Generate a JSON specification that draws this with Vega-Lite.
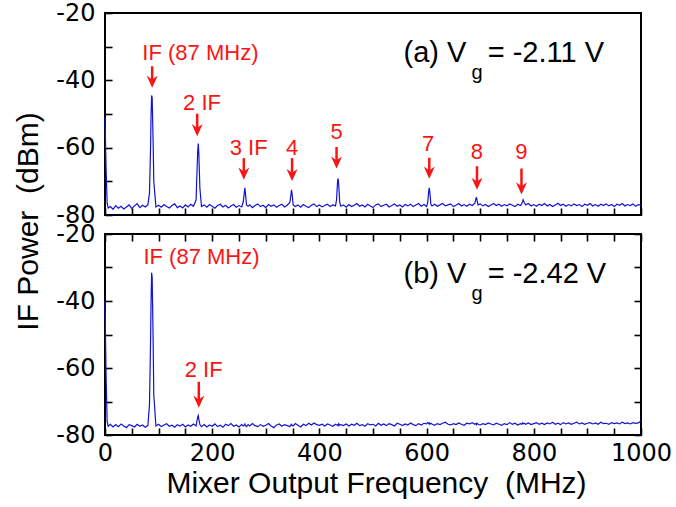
{
  "$schema": "https://vega.github.io/schema/vega-lite/v6.json",
  "padding": {"left": 12, "top": 0, "right": 5, "bottom": 5},
  "bounds": "flush",
  "spacing": 19,
  "config": {
    "view": {"stroke": "black", "strokeWidth": 2},
    "axis": {"domain": false, "grid": false, "tickSize": 7, "tickWidth": 1.6, "tickColor": "black", "offset": -7,
      "labelFont": "DejaVu Sans", "labelFontSize": 24, "labelColor": "black", "labelOverlap": false, "labelFlush": false,
      "titleFont": "Liberation Sans", "titleFontSize": 30, "titleFontWeight": "normal", "titleColor": "black"},
    "axisX": {"labelPadding": 6},
    "axisY": {"labelPadding": 10}
  },
  "datasets": {
    "spec": [
      {"f":0,"a":-51,"b":-40},{"f":2,"a":-66,"b":-62},{"f":4,"a":-76.5,"b":-76.0},{"f":6,"a":-77.9,"b":-77.4},
      {"f":10,"a":-77.5,"b":-76.8},{"f":15,"a":-78.3,"b":-77.6},{"f":20,"a":-77.2,"b":-76.9},{"f":25,"a":-78.0,"b":-77.5},
      {"f":30,"a":-77.4,"b":-76.7},{"f":35,"a":-78.2,"b":-77.3},{"f":40,"a":-77.6,"b":-77.8},{"f":45,"a":-77.0,"b":-76.9},
      {"f":50,"a":-78.1,"b":-77.2},{"f":55,"a":-77.3,"b":-77.6},{"f":60,"a":-76.6,"b":-76.8},{"f":65,"a":-77.8,"b":-77.4},
      {"f":70,"a":-77.1,"b":-77.0},{"f":75,"a":-77.6,"b":-77.7},{"f":80,"a":-77.0,"b":-77.2},{"f":83,"a":-73.5,"b":-71},
      {"f":85,"a":-60,"b":-52},{"f":86,"a":-50,"b":-40},{"f":87,"a":-44.5,"b":-31.6},{"f":88,"a":-45.2,"b":-33},
      {"f":90,"a":-60,"b":-54},{"f":91,"a":-70,"b":-68},{"f":95,"a":-77.6,"b":-77.3},{"f":100,"a":-77.1,"b":-76.8},
      {"f":105,"a":-77.7,"b":-77.5},{"f":110,"a":-76.9,"b":-77.0},{"f":115,"a":-77.5,"b":-76.6},{"f":120,"a":-77.9,"b":-77.4},
      {"f":125,"a":-77.2,"b":-77.1},{"f":130,"a":-76.7,"b":-77.7},{"f":135,"a":-77.8,"b":-76.9},{"f":140,"a":-77.3,"b":-77.3},
      {"f":145,"a":-77.9,"b":-76.8},{"f":150,"a":-77.0,"b":-77.6},{"f":155,"a":-77.6,"b":-77.0},{"f":160,"a":-76.8,"b":-77.4},
      {"f":165,"a":-77.4,"b":-76.7},{"f":170,"a":-75.5,"b":-77.3},{"f":171,"a":-70,"b":-76.3},{"f":173,"a":-61,"b":-74.6},
      {"f":174,"a":-58.8,"b":-74.2},{"f":175,"a":-61.5,"b":-75.2},{"f":177,"a":-72,"b":-76.9},{"f":180,"a":-77.5,"b":-77.5},
      {"f":185,"a":-77.0,"b":-76.9},{"f":190,"a":-77.7,"b":-77.6},{"f":195,"a":-76.9,"b":-77.0},{"f":200,"a":-77.4,"b":-77.4},
      {"f":205,"a":-78.0,"b":-76.7},{"f":210,"a":-77.2,"b":-77.5},{"f":215,"a":-76.8,"b":-77.1},{"f":220,"a":-77.6,"b":-77.7},
      {"f":225,"a":-77.1,"b":-76.8},{"f":230,"a":-77.9,"b":-77.2},{"f":235,"a":-77.3,"b":-76.6},{"f":240,"a":-76.9,"b":-77.4},
      {"f":245,"a":-77.7,"b":-77.0},{"f":250,"a":-77.2,"b":-77.6},{"f":255,"a":-77.6,"b":-76.9},{"f":258,"a":-76.0,"b":-77.3},
      {"f":260,"a":-73.2,"b":-77.0},{"f":261,"a":-71.9,"b":-76.7},{"f":262,"a":-73.5,"b":-77.2},{"f":264,"a":-77.0,"b":-77.5},
      {"f":267,"a":-77.4,"b":-76.9},{"f":270,"a":-77.0,"b":-77.3},{"f":275,"a":-77.8,"b":-76.6},{"f":280,"a":-77.2,"b":-77.2},
      {"f":285,"a":-76.7,"b":-77.5},{"f":290,"a":-77.5,"b":-76.9},{"f":295,"a":-77.1,"b":-77.4},{"f":300,"a":-77.8,"b":-77.1},
      {"f":305,"a":-76.9,"b":-76.6},{"f":310,"a":-77.4,"b":-77.3},{"f":315,"a":-77.0,"b":-77.8},{"f":320,"a":-77.7,"b":-77.0},
      {"f":325,"a":-77.2,"b":-76.7},{"f":330,"a":-76.8,"b":-77.4},{"f":335,"a":-77.6,"b":-76.9},{"f":340,"a":-77.1,"b":-77.2},
      {"f":345,"a":-76.2,"b":-77.5},{"f":347,"a":-73.8,"b":-77.0},{"f":348,"a":-72.5,"b":-76.8},{"f":349,"a":-73.6,"b":-77.1},
      {"f":351,"a":-77.0,"b":-77.3},{"f":355,"a":-77.5,"b":-76.6},{"f":360,"a":-77.0,"b":-77.1},{"f":365,"a":-77.7,"b":-77.6},
      {"f":370,"a":-76.9,"b":-76.8},{"f":375,"a":-77.4,"b":-77.2},{"f":380,"a":-77.8,"b":-76.5},{"f":385,"a":-77.1,"b":-77.0},
      {"f":390,"a":-76.7,"b":-76.4},{"f":395,"a":-77.5,"b":-76.9},{"f":400,"a":-77.0,"b":-77.1},{"f":405,"a":-77.6,"b":-76.8},
      {"f":410,"a":-77.2,"b":-77.3},{"f":415,"a":-76.8,"b":-76.7},{"f":420,"a":-77.5,"b":-77.0},{"f":425,"a":-77.0,"b":-77.4},
      {"f":430,"a":-77.3,"b":-76.8},{"f":432,"a":-75.5,"b":-77.0},{"f":434,"a":-69.8,"b":-76.9},{"f":435,"a":-69.2,"b":-77.2},
      {"f":436,"a":-71.0,"b":-76.6},{"f":438,"a":-76.3,"b":-77.1},{"f":440,"a":-77.4,"b":-76.9},{"f":445,"a":-77.0,"b":-77.2},
      {"f":450,"a":-77.7,"b":-76.7},{"f":455,"a":-76.9,"b":-77.3},{"f":460,"a":-77.5,"b":-76.8},{"f":465,"a":-77.1,"b":-77.1},
      {"f":470,"a":-76.6,"b":-76.5},{"f":475,"a":-77.4,"b":-77.2},{"f":480,"a":-77.0,"b":-76.9},{"f":485,"a":-77.6,"b":-77.4},
      {"f":490,"a":-76.8,"b":-76.6},{"f":495,"a":-77.3,"b":-77.0},{"f":500,"a":-77.8,"b":-76.8},{"f":505,"a":-77.0,"b":-77.3},
      {"f":510,"a":-76.7,"b":-76.5},{"f":515,"a":-77.5,"b":-77.1},{"f":520,"a":-77.1,"b":-76.7},{"f":525,"a":-76.8,"b":-77.2},
      {"f":530,"a":-77.6,"b":-76.6},{"f":535,"a":-77.2,"b":-76.9},{"f":540,"a":-76.7,"b":-77.3},{"f":545,"a":-77.4,"b":-76.5},
      {"f":550,"a":-77.0,"b":-76.8},{"f":555,"a":-77.6,"b":-77.2},{"f":560,"a":-76.9,"b":-76.7},{"f":565,"a":-77.3,"b":-77.0},
      {"f":570,"a":-76.8,"b":-76.4},{"f":575,"a":-77.5,"b":-76.9},{"f":580,"a":-77.0,"b":-77.2},{"f":585,"a":-76.6,"b":-76.6},
      {"f":590,"a":-77.4,"b":-77.0},{"f":595,"a":-76.9,"b":-76.5},{"f":600,"a":-77.5,"b":-76.7},{"f":602,"a":-76.3,"b":-76.3},
      {"f":604,"a":-72.8,"b":-76.6},{"f":605,"a":-71.9,"b":-76.4},{"f":606,"a":-73.2,"b":-76.8},{"f":608,"a":-76.8,"b":-76.5},
      {"f":610,"a":-77.3,"b":-76.7},{"f":615,"a":-76.8,"b":-77.1},{"f":620,"a":-77.4,"b":-76.6},{"f":625,"a":-77.0,"b":-76.9},
      {"f":630,"a":-76.6,"b":-76.5},{"f":635,"a":-77.3,"b":-76.2},{"f":640,"a":-77.0,"b":-76.8},{"f":645,"a":-76.7,"b":-77.0},
      {"f":650,"a":-77.5,"b":-76.6},{"f":655,"a":-77.1,"b":-76.9},{"f":660,"a":-76.6,"b":-76.4},{"f":665,"a":-77.3,"b":-76.8},
      {"f":670,"a":-76.9,"b":-77.1},{"f":675,"a":-77.4,"b":-76.5},{"f":680,"a":-76.8,"b":-76.7},{"f":685,"a":-77.2,"b":-76.3},
      {"f":690,"a":-76.5,"b":-76.8},{"f":692,"a":-75.2,"b":-76.6},{"f":693,"a":-74.7,"b":-76.9},{"f":694,"a":-75.6,"b":-76.5},
      {"f":696,"a":-77.0,"b":-76.8},{"f":700,"a":-76.7,"b":-77.0},{"f":705,"a":-77.3,"b":-76.6},{"f":710,"a":-76.9,"b":-76.9},
      {"f":715,"a":-77.5,"b":-76.4},{"f":720,"a":-77.0,"b":-76.7},{"f":725,"a":-76.6,"b":-77.0},{"f":730,"a":-77.2,"b":-76.5},
      {"f":735,"a":-76.8,"b":-76.8},{"f":740,"a":-77.4,"b":-77.1},{"f":745,"a":-76.9,"b":-76.6},{"f":750,"a":-77.3,"b":-76.9},
      {"f":755,"a":-76.7,"b":-76.3},{"f":760,"a":-77.1,"b":-76.8},{"f":765,"a":-77.5,"b":-76.5},{"f":770,"a":-76.8,"b":-77.0},
      {"f":775,"a":-77.2,"b":-76.6},{"f":777,"a":-76.8,"b":-76.8},{"f":779,"a":-76.0,"b":-76.4},{"f":780,"a":-75.5,"b":-76.7},
      {"f":782,"a":-76.3,"b":-76.5},{"f":785,"a":-77.0,"b":-76.8},{"f":790,"a":-76.6,"b":-76.4},{"f":795,"a":-77.3,"b":-76.9},
      {"f":800,"a":-76.9,"b":-76.6},{"f":805,"a":-77.4,"b":-76.3},{"f":810,"a":-76.8,"b":-76.8},{"f":815,"a":-77.2,"b":-76.5},
      {"f":820,"a":-76.6,"b":-76.9},{"f":825,"a":-77.3,"b":-76.4},{"f":830,"a":-76.9,"b":-76.7},{"f":835,"a":-77.5,"b":-76.2},
      {"f":840,"a":-77.0,"b":-76.8},{"f":845,"a":-76.5,"b":-76.5},{"f":850,"a":-77.2,"b":-76.9},{"f":855,"a":-76.8,"b":-76.3},
      {"f":860,"a":-77.4,"b":-76.7},{"f":865,"a":-76.9,"b":-76.4},{"f":870,"a":-77.3,"b":-76.8},{"f":875,"a":-76.7,"b":-76.5},
      {"f":880,"a":-77.2,"b":-76.2},{"f":885,"a":-76.9,"b":-76.7},{"f":890,"a":-77.5,"b":-76.4},{"f":895,"a":-76.8,"b":-76.8},
      {"f":900,"a":-77.1,"b":-76.5},{"f":905,"a":-76.6,"b":-76.3},{"f":910,"a":-77.3,"b":-76.7},{"f":915,"a":-76.9,"b":-76.4},
      {"f":920,"a":-77.4,"b":-76.8},{"f":925,"a":-76.8,"b":-76.2},{"f":930,"a":-77.2,"b":-76.6},{"f":935,"a":-76.7,"b":-76.5},
      {"f":940,"a":-77.3,"b":-76.8},{"f":945,"a":-76.9,"b":-76.3},{"f":950,"a":-77.5,"b":-76.6},{"f":955,"a":-76.8,"b":-76.4},
      {"f":960,"a":-77.1,"b":-76.7},{"f":965,"a":-76.6,"b":-76.2},{"f":970,"a":-77.3,"b":-76.6},{"f":975,"a":-76.9,"b":-76.4},
      {"f":980,"a":-77.2,"b":-76.7},{"f":985,"a":-76.7,"b":-76.3},{"f":990,"a":-77.4,"b":-76.5},{"f":995,"a":-76.9,"b":-76.4},
      {"f":1000,"a":-77.1,"b":-75.8}
    ],
    "labels": [
      {"panel":"a","label":"IF (87 MHz)","lx":178,"ly":-34.05,"ax":88,"atop":-35.8,"atip":-42.2},
      {"panel":"a","label":"2 IF","lx":181,"ly":-48.9,"ax":172,"atop":-49.9,"atip":-56.6},
      {"panel":"a","label":"3 IF","lx":268,"ly":-62.3,"ax":259,"atop":-63.1,"atip":-69.5},
      {"panel":"a","label":"4","lx":349,"ly":-62.3,"ax":349,"atop":-63.1,"atip":-69.9},
      {"panel":"a","label":"5","lx":432,"ly":-57.3,"ax":432,"atop":-59.8,"atip":-66.2},
      {"panel":"a","label":"7","lx":603,"ly":-61.0,"ax":605,"atop":-63.0,"atip":-69.2},
      {"panel":"a","label":"8","lx":694,"ly":-63.3,"ax":694,"atop":-65.5,"atip":-72.5},
      {"panel":"a","label":"9","lx":777,"ly":-63.3,"ax":777,"atop":-66.2,"atip":-73.9},
      {"panel":"b","label":"IF (87 MHz)","lx":180,"ly":-29.07,"ax":null,"atop":null,"atip":null},
      {"panel":"b","label":"2 IF","lx":184,"ly":-62.6,"ax":175,"atop":-64.1,"atip":-71.85}
    ],
    "vg": [
      {"panel":"a","part":"main","x":557,"y":-34.55,"text":"(a) V"},
      {"panel":"a","part":"sub","x":684,"y":-39.6,"text":"g"},
      {"panel":"a","part":"main","x":714,"y":-34.55,"text":"= -2.11 V"},
      {"panel":"b","part":"main","x":557,"y":-34.75,"text":"(b) V"},
      {"panel":"b","part":"sub","x":684,"y":-39.85,"text":"g"},
      {"panel":"b","part":"main","x":714,"y":-34.75,"text":"= -2.42 V"}
    ]
  },
  "vconcat": [
    {
      "width": 536, "height": 202,
      "resolve": {"axis": {"x": "independent", "y": "independent"}},
      "layer": [
        {
          "data": {"name": "spec"},
          "mark": {"type": "line", "color": "#1212d6", "strokeWidth": 1.2},
          "encoding": {
            "x": {"field": "f", "type": "quantitative", "scale": {"domain": [0, 1000]},
              "axis": {"values": [0,50,100,150,200,250,300,350,400,450,500,550,600,650,700,750,800,850,900,950,1000], "labels": false, "title": null}},
            "y": {"field": "a", "type": "quantitative", "scale": {"domain": [-80, -20]},
              "axis": {"values": [-80,-70,-60,-50,-40,-30,-20],
                "labelExpr": "datum.value % 20 == 0 ? '' + datum.value : ''",
                "title": "IF Power \u00a0(dBm)", "titleX": -75, "titleY": 208, "titleBaseline": "alphabetic", "titleAngle": -90, "titleAlign": "center"}}
          }
        },
        {
          "data": {"name": "labels"},
          "transform": [{"filter": "datum.panel == 'a'"}],
          "mark": {"type": "rule", "color": "#fa1414", "strokeWidth": 2.5, "y2Offset": -4},
          "encoding": {
            "x": {"field": "ax", "type": "quantitative", "scale": {"domain": [0, 1000]}, "axis": {"ticks": false, "labels": false, "title": null}},
            "y": {"field": "atop", "type": "quantitative", "scale": {"domain": [-80, -20]}, "axis": {"ticks": false, "labels": false, "title": null}},
            "y2": {"field": "atip"}
          }
        },
        {
          "data": {"name": "labels"},
          "transform": [{"filter": "datum.panel == 'a'"}],
          "mark": {"type": "point", "shape": "M-1,-2.2L0,0L1,-2.2L0,-1.5Z", "size": 121, "filled": true, "color": "#fa1414", "opacity": 1, "strokeWidth": 0},
          "encoding": {
            "x": {"field": "ax", "type": "quantitative", "scale": {"domain": [0, 1000]}, "axis": {"ticks": false, "labels": false, "title": null}},
            "y": {"field": "atip", "type": "quantitative", "scale": {"domain": [-80, -20]}, "axis": {"ticks": false, "labels": false, "title": null}}
          }
        },
        {
          "data": {"name": "labels"},
          "transform": [{"filter": "datum.panel == 'a'"}],
          "mark": {"type": "text", "color": "#fa1414", "font": "Liberation Sans", "fontSize": 22, "align": "center", "baseline": "alphabetic"},
          "encoding": {
            "x": {"field": "lx", "type": "quantitative", "scale": {"domain": [0, 1000]}, "axis": {"ticks": false, "labels": false, "title": null}},
            "y": {"field": "ly", "type": "quantitative", "scale": {"domain": [-80, -20]}, "axis": {"ticks": false, "labels": false, "title": null}},
            "text": {"field": "label"}
          }
        },
        {
          "data": {"name": "vg"},
          "transform": [{"filter": "datum.panel == 'a' && datum.part == 'main'"}],
          "mark": {"type": "text", "color": "black", "font": "Liberation Sans", "fontSize": 29, "align": "left", "baseline": "alphabetic"},
          "encoding": {
            "x": {"field": "x", "type": "quantitative", "scale": {"domain": [0, 1000]}, "axis": {"ticks": false, "labels": false, "title": null}},
            "y": {"field": "y", "type": "quantitative", "scale": {"domain": [-80, -20]}, "axis": {"ticks": false, "labels": false, "title": null}},
            "text": {"field": "text"}
          }
        },
        {
          "data": {"name": "vg"},
          "transform": [{"filter": "datum.panel == 'a' && datum.part == 'sub'"}],
          "mark": {"type": "text", "color": "black", "font": "Liberation Sans", "fontSize": 20, "align": "left", "baseline": "alphabetic"},
          "encoding": {
            "x": {"field": "x", "type": "quantitative", "scale": {"domain": [0, 1000]}, "axis": {"ticks": false, "labels": false, "title": null}},
            "y": {"field": "y", "type": "quantitative", "scale": {"domain": [-80, -20]}, "axis": {"ticks": false, "labels": false, "title": null}},
            "text": {"field": "text"}
          }
        }
      ]
    },
    {
      "width": 536, "height": 201,
      "resolve": {"axis": {"x": "independent", "y": "independent"}},
      "layer": [
        {
          "data": {"name": "spec"},
          "mark": {"type": "line", "color": "#1212d6", "strokeWidth": 1.2},
          "encoding": {
            "x": {"field": "f", "type": "quantitative", "scale": {"domain": [0, 1000]},
              "axis": {"values": [0,50,100,150,200,250,300,350,400,450,500,550,600,650,700,750,800,850,900,950,1000],
                "labelExpr": "datum.value % 200 == 0 ? '' + datum.value : ''",
                "title": "Mixer Output Frequency \u00a0(MHz)", "titleX": 271, "titleY": 64, "titleBaseline": "alphabetic", "titleAlign": "center"}},
            "y": {"field": "b", "type": "quantitative", "scale": {"domain": [-80, -20]},
              "axis": {"values": [-80,-70,-60,-50,-40,-30,-20],
                "labelExpr": "datum.value % 20 == 0 ? '' + datum.value : ''",
                "title": null}}
          }
        },
        {
          "data": {"name": "labels"},
          "transform": [{"filter": "datum.panel == 'b'"}],
          "mark": {"type": "rule", "color": "#fa1414", "strokeWidth": 2.5, "y2Offset": -4},
          "encoding": {
            "x": {"field": "ax", "type": "quantitative", "scale": {"domain": [0, 1000]}, "axis": {"ticks": false, "labels": false, "title": null}},
            "y": {"field": "atop", "type": "quantitative", "scale": {"domain": [-80, -20]}, "axis": {"ticks": false, "labels": false, "title": null}},
            "y2": {"field": "atip"}
          }
        },
        {
          "data": {"name": "labels"},
          "transform": [{"filter": "datum.panel == 'b' && isValid(datum.ax)"}],
          "mark": {"type": "point", "shape": "M-1,-2.2L0,0L1,-2.2L0,-1.5Z", "size": 121, "filled": true, "color": "#fa1414", "opacity": 1, "strokeWidth": 0},
          "encoding": {
            "x": {"field": "ax", "type": "quantitative", "scale": {"domain": [0, 1000]}, "axis": {"ticks": false, "labels": false, "title": null}},
            "y": {"field": "atip", "type": "quantitative", "scale": {"domain": [-80, -20]}, "axis": {"ticks": false, "labels": false, "title": null}}
          }
        },
        {
          "data": {"name": "labels"},
          "transform": [{"filter": "datum.panel == 'b'"}],
          "mark": {"type": "text", "color": "#fa1414", "font": "Liberation Sans", "fontSize": 22, "align": "center", "baseline": "alphabetic"},
          "encoding": {
            "x": {"field": "lx", "type": "quantitative", "scale": {"domain": [0, 1000]},
              "axis": {"orient": "top", "values": [0,50,100,150,200,250,300,350,400,450,500,550,600,650,700,750,800,850,900,950,1000], "labels": false, "title": null}},
            "y": {"field": "ly", "type": "quantitative", "scale": {"domain": [-80, -20]},
              "axis": {"orient": "right", "values": [-80,-70,-60,-50,-40,-30,-20], "labels": false, "title": null}},
            "text": {"field": "label"}
          }
        },
        {
          "data": {"name": "vg"},
          "transform": [{"filter": "datum.panel == 'b' && datum.part == 'main'"}],
          "mark": {"type": "text", "color": "black", "font": "Liberation Sans", "fontSize": 29, "align": "left", "baseline": "alphabetic"},
          "encoding": {
            "x": {"field": "x", "type": "quantitative", "scale": {"domain": [0, 1000]}, "axis": {"ticks": false, "labels": false, "title": null}},
            "y": {"field": "y", "type": "quantitative", "scale": {"domain": [-80, -20]}, "axis": {"ticks": false, "labels": false, "title": null}},
            "text": {"field": "text"}
          }
        },
        {
          "data": {"name": "vg"},
          "transform": [{"filter": "datum.panel == 'b' && datum.part == 'sub'"}],
          "mark": {"type": "text", "color": "black", "font": "Liberation Sans", "fontSize": 20, "align": "left", "baseline": "alphabetic"},
          "encoding": {
            "x": {"field": "x", "type": "quantitative", "scale": {"domain": [0, 1000]}, "axis": {"ticks": false, "labels": false, "title": null}},
            "y": {"field": "y", "type": "quantitative", "scale": {"domain": [-80, -20]}, "axis": {"ticks": false, "labels": false, "title": null}},
            "text": {"field": "text"}
          }
        }
      ]
    }
  ]
}
